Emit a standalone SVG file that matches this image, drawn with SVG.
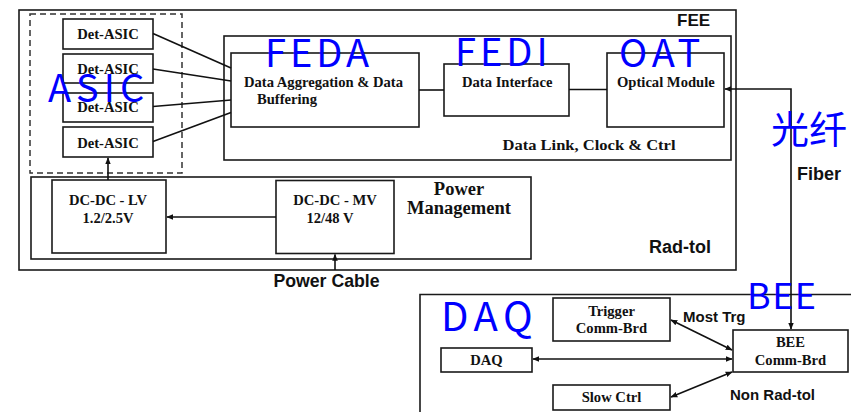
<svg xmlns="http://www.w3.org/2000/svg" width="851" height="412" viewBox="0 0 851 412">
<style>
.box{fill:#fff;stroke:#1a1a1a;stroke-width:1.6}
.frame{fill:none;stroke:#1a1a1a;stroke-width:1.6}
.dash{fill:none;stroke:#333;stroke-width:1.5;stroke-dasharray:6,4}
.ln{fill:none;stroke:#111;stroke-width:1.6}
.sr{font-family:"Liberation Serif","Times New Roman",serif;font-weight:bold;font-size:14.6px;fill:#111}
.big{font-size:18.5px}
.ss{font-family:"Liberation Sans",Arial,sans-serif;font-weight:bold;fill:#111}
.bl{font-family:"Noto Sans CJK SC","Noto Sans",sans-serif;fill:#0000ff;font-size:38px}
</style>
<defs>
<marker id="ah" viewBox="0 0 10 10" refX="9" refY="5" markerWidth="7" markerHeight="7" orient="auto-start-reverse" markerUnits="userSpaceOnUse">
<path d="M0,1 L10,5 L0,9 z" fill="#111"/>
</marker>
</defs>

<g id="fee-frame">
<rect class="frame" x="19" y="10" width="717" height="260"/>
<text class="ss" x="677" y="26" font-size="17">FEE</text>
<text class="ss" x="649" y="252.5" font-size="18">Rad-tol</text>
</g>

<g id="asic-group">
<rect class="dash" x="30" y="14" width="152" height="159"/>
</g>

<g id="det-asic-1"><rect class="box" x="63" y="19" width="90" height="30"/><text class="sr" x="108" y="39" text-anchor="middle">Det-ASIC</text></g>
<g id="det-asic-2"><rect class="box" x="63" y="54" width="90" height="29"/><text class="sr" x="108" y="74" text-anchor="middle">Det-ASIC</text></g>
<g id="det-asic-3"><rect class="box" x="63" y="93" width="90" height="29"/><text class="sr" x="108" y="112" text-anchor="middle">Det-ASIC</text></g>
<g id="det-asic-4"><rect class="box" x="63" y="127" width="90" height="30"/><text class="sr" x="108" y="147.5" text-anchor="middle">Det-ASIC</text></g>

<g id="data-link">
<rect class="frame" x="224" y="36" width="507" height="124"/>
<text class="sr" x="502.5" y="149.5" textLength="173" lengthAdjust="spacingAndGlyphs">Data Link, Clock &amp; Ctrl</text>
</g>

<g id="data-aggregation">
<rect class="box" x="231" y="53" width="188" height="74"/>
<text class="sr" x="244" y="87">Data Aggregation &amp; Data</text>
<text class="sr" x="257" y="103.5">Buffering</text>
</g>

<g id="data-interface">
<rect class="box" x="444" y="64" width="125" height="52"/>
<text class="sr" x="462" y="87">Data Interface</text>
</g>

<g id="optical-module">
<rect class="box" x="607" y="53" width="117" height="74"/>
<text class="sr" x="617" y="86.5">Optical Module</text>
</g>

<g id="power-management">
<rect class="frame" x="31" y="177" width="500" height="82"/>
<text class="sr big" x="459" y="195" text-anchor="middle">Power</text>
<text class="sr big" x="459" y="213.5" text-anchor="middle">Management</text>
</g>

<g id="dcdc-lv">
<rect class="box" x="52" y="180" width="114" height="73"/>
<text class="sr" x="108" y="204.5" text-anchor="middle">DC-DC - LV</text>
<text class="sr" x="108" y="223" text-anchor="middle">1.2/2.5V</text>
</g>

<g id="dcdc-mv">
<rect class="box" x="276" y="180.5" width="118" height="73"/>
<text class="sr" x="335" y="204.5" text-anchor="middle">DC-DC - MV</text>
<text class="sr" x="330" y="223" text-anchor="middle">12/48 V</text>
</g>

<g id="daq-frame">
<path class="frame" d="M420,413 V294.5 H852"/>
</g>

<g id="trigger-comm-brd">
<rect class="box" x="553" y="298" width="117" height="43"/>
<text class="sr" x="611.5" y="315.5" text-anchor="middle">Trigger</text>
<text class="sr" x="611.5" y="333" text-anchor="middle">Comm-Brd</text>
</g>

<g id="daq">
<rect class="box" x="441" y="348" width="91" height="24"/>
<text class="sr" x="486.5" y="364.5" text-anchor="middle">DAQ</text>
</g>

<g id="slow-ctrl">
<rect class="box" x="553" y="385" width="117" height="25"/>
<text class="sr" x="611.5" y="402" text-anchor="middle">Slow Ctrl</text>
</g>

<g id="bee-comm-brd">
<rect class="box" x="733" y="330" width="115" height="42"/>
<text class="sr" x="790.5" y="347" text-anchor="middle">BEE</text>
<text class="sr" x="790.5" y="364.5" text-anchor="middle">Comm-Brd</text>
</g>

<g id="connectors">
<line class="ln" x1="153" y1="33.5" x2="231" y2="68"/>
<line class="ln" x1="153" y1="69" x2="231" y2="81"/>
<line class="ln" x1="153" y1="106.5" x2="231" y2="100"/>
<line class="ln" x1="153" y1="141.5" x2="231" y2="112.5"/>
<line class="ln" x1="419" y1="90" x2="444" y2="90"/>
<line class="ln" x1="569" y1="89.5" x2="607" y2="89.5"/>
<path class="ln" d="M725,89 H791 V329" marker-start="url(#ah)" marker-end="url(#ah)"/>
<line class="ln" x1="276" y1="217" x2="167" y2="217" marker-end="url(#ah)"/>
<line class="ln" x1="108" y1="180" x2="108" y2="158" marker-end="url(#ah)"/>
<line class="ln" x1="335" y1="270" x2="335" y2="254.5" marker-end="url(#ah)"/>
<line class="ln" x1="533" y1="359" x2="732" y2="359" marker-start="url(#ah)" marker-end="url(#ah)"/>
<line class="ln" x1="671" y1="320" x2="732" y2="350" marker-start="url(#ah)" marker-end="url(#ah)"/>
<line class="ln" x1="671" y1="397" x2="732" y2="372" marker-start="url(#ah)" marker-end="url(#ah)"/>
</g>

<g id="labels">
<text class="ss" x="326.5" y="287" font-size="17.7" text-anchor="middle">Power Cable</text>
<text class="ss" x="797" y="180" font-size="18">Fiber</text>
<text class="ss" x="683" y="322" font-size="15">Most Trg</text>
<text class="ss" x="730" y="400" font-size="15">Non Rad-tol</text>
</g>

<g id="annotations">
<text class="bl" x="265" y="67" letter-spacing="4">FEDA</text>
<text class="bl" x="455" y="66" letter-spacing="4">FEDI</text>
<text class="bl" x="619" y="67" letter-spacing="5">OAT</text>
<text class="bl" x="48" y="102" letter-spacing="5">ASIC</text>
<text class="bl" x="771" y="143">光纤</text>
<text class="bl" x="441" y="331" style="font-size:40px" letter-spacing="5.5">DAQ</text>
<text class="bl" x="747" y="309" style="font-size:36px" letter-spacing="1.5">BEE</text>
</g>
</svg>
